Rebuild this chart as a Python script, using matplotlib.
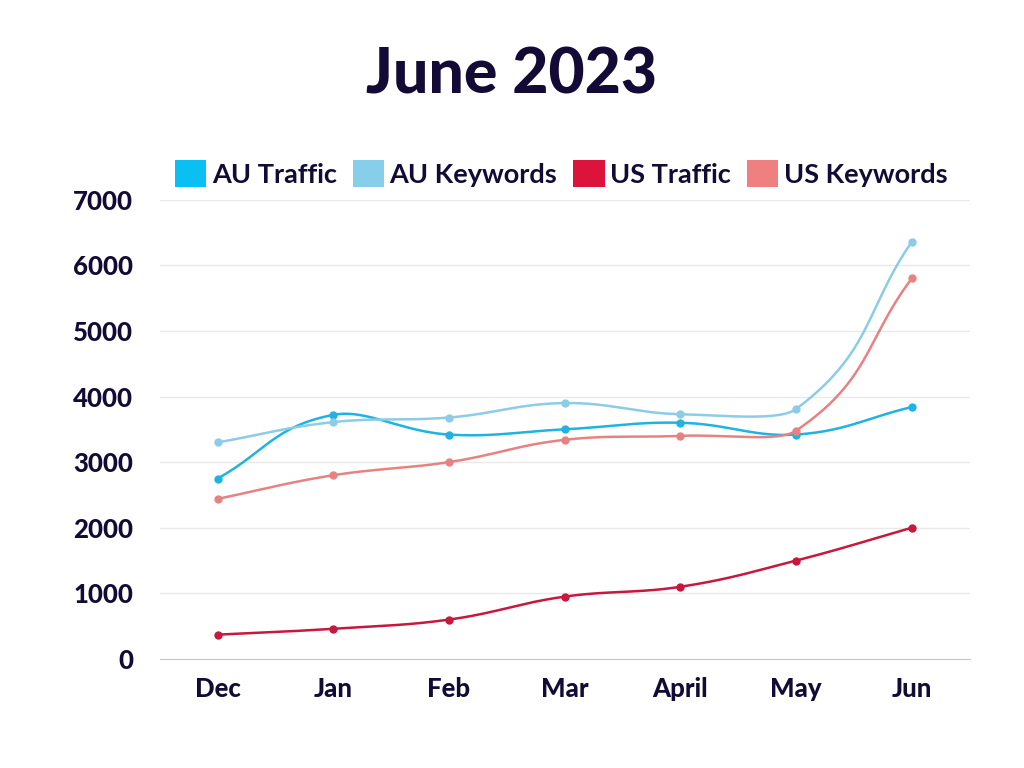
import numpy as np
import matplotlib
matplotlib.use("Agg")
import matplotlib.pyplot as plt
from matplotlib.patches import Patch

months = ["Dec", "Jan", "Feb", "Mar", "April", "May", "Jun"]
au_traffic = [2750, 3720, 3420, 3500, 3600, 3420, 3840]
au_keywords = [3300, 3610, 3680, 3900, 3730, 3810, 6360]
us_traffic = [370, 460, 600, 950, 1100, 1500, 2000]
us_keywords = [2440, 2800, 3000, 3340, 3400, 3480, 5800]

series = [
    ("AU Traffic", au_traffic, "#1fb3e3", "#0abff2"),
    ("AU Keywords", au_keywords, "#8dcce6", "#87ceeb"),
    ("US Traffic", us_traffic, "#c8183d", "#dc143c"),
    ("US Keywords", us_keywords, "#e88282", "#f08080"),
]

TEXT = "#130b35"
plt.rcParams["font.family"] = ["Lato", "DejaVu Sans"]


def smooth(x, y, tension=0.4, n=30):
    # chart.js style bezier control points
    x = np.asarray(x, float)
    y = np.asarray(y, float)
    xs, ys = [], []
    cps = []
    for i in range(len(x)):
        p = (x[i - 1], y[i - 1]) if i > 0 else (x[i], y[i])
        c = (x[i], y[i])
        nx = (x[i + 1], y[i + 1]) if i < len(x) - 1 else (x[i], y[i])
        d01 = np.hypot(c[0] - p[0], c[1] - p[1])
        d12 = np.hypot(nx[0] - c[0], nx[1] - c[1])
        s01 = d01 / (d01 + d12) if d01 + d12 else 0
        s12 = d12 / (d01 + d12) if d01 + d12 else 0
        fa, fb = tension * s01, tension * s12
        prev_cp = (c[0] - fa * (nx[0] - p[0]), c[1] - fa * (nx[1] - p[1]))
        next_cp = (c[0] + fb * (nx[0] - p[0]), c[1] + fb * (nx[1] - p[1]))
        cps.append((prev_cp, next_cp))
    t = np.linspace(0, 1, n)
    for i in range(len(x) - 1):
        p0 = np.array([x[i], y[i]])
        p1 = np.array(cps[i][1])
        p2 = np.array(cps[i + 1][0])
        p3 = np.array([x[i + 1], y[i + 1]])
        b = ((1 - t) ** 3)[:, None] * p0 + (3 * (1 - t) ** 2 * t)[:, None] * p1 \
            + (3 * (1 - t) * t ** 2)[:, None] * p2 + (t ** 3)[:, None] * p3
        xs.extend(b[:, 0])
        ys.extend(b[:, 1])
    return np.array(xs), np.array(ys)


fig = plt.figure(figsize=(10.24, 7.68), dpi=100)
ax = fig.add_axes([0.156, 0.142, 0.791, 0.598])

xpos = np.arange(len(months))
# scale y so distances are comparable to x spacing in pixels
for name, vals, lc, pc in series:
    sx, sy = smooth(xpos, np.array(vals) / 560.0)
    ax.plot(sx, sy * 560.0, color=lc, lw=1.8, zorder=3)
    ax.plot(xpos, vals, "o", color=lc, ms=5, zorder=4)

ax.set_xlim(-0.5, len(months) - 0.5)
ax.set_ylim(0, 7000)
ax.set_yticks(range(0, 7001, 1000))
ax.set_xticks(xpos)
ax.set_xticklabels(months)
ax.grid(axis="y", color="#e9e9e9", lw=1)
ax.set_axisbelow(True)
for s in ["top", "right", "left"]:
    ax.spines[s].set_visible(False)
ax.spines["bottom"].set_color("#c8c8c8")
ax.tick_params(axis="both", length=0, labelsize=18.5, labelcolor=TEXT)
ax.tick_params(axis="y", pad=19)
ax.tick_params(axis="x", pad=13)
for lbl in ax.get_xticklabels() + ax.get_yticklabels():
    lbl.set_fontweight("black")

fig.text(0.5, 0.902, "June 2023", ha="center", va="center", fontsize=45,
         fontweight="black", color=TEXT)

handles = [Patch(facecolor=pc, edgecolor="none", label=name) for name, _, _, pc in series]
leg = fig.legend(handles=handles, loc="center", bbox_to_anchor=(0.548, 0.774), ncol=4,
                 frameon=False, handlelength=1.15, handleheight=1.15, handletextpad=0.2,
                 columnspacing=0.6, prop={"size": 19.5, "weight": "bold"})
for t in leg.get_texts():
    t.set_color(TEXT)

fig.savefig("out.png", dpi=100, facecolor="white")
